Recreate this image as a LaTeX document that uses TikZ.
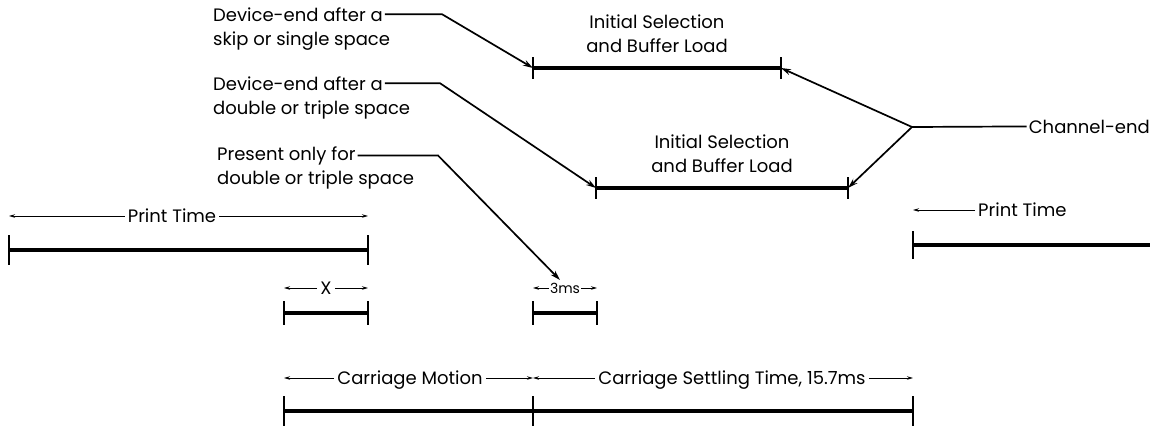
\documentclass[tikz,border=0pt]{standalone}
\usepackage{fontspec}
\setmainfont{Poppins}
\usetikzlibrary{arrows.meta, positioning}

\begin{document}
\begin{tikzpicture}[x=1pt, y=-1pt,
  txt/.style={font=\fontsize{18}{21}\selectfont, inner sep=2pt},
  dimlabel/.style={txt, text depth=0pt, inner sep=3pt},
  bar/.style={line width=4pt},
  tickmark/.style={line width=1.4pt},
  leader/.style={line width=1.7pt, -{Stealth[length=10pt, width=6pt]}},
  dim/.style={line width=0.9pt, -{Stealth[length=6pt, width=3.5pt]}}
]
\useasboundingbox (0,0) rectangle (1153,429);

% Bar end points
\coordinate (top1) at (533,68);   \coordinate (top2) at (781,68);
\coordinate (low1) at (596,188);  \coordinate (low2) at (848,188);
\coordinate (pt1) at (9,250);     \coordinate (pt2) at (368,250);
\coordinate (xs1) at (284,313);   \coordinate (xs2) at (368,313);
\coordinate (ms1) at (533,313);   \coordinate (ms2) at (597,313);
\coordinate (cm1) at (284,411);   \coordinate (cm2) at (533,411);
\coordinate (cs2) at (913,411);
\coordinate (rp1) at (913,245);   \coordinate (rp2) at (1150,245);

% Bars
\foreach \a/\b in {top1/top2, low1/low2, pt1/pt2, xs1/xs2, ms1/ms2, cm1/cs2, rp1/rp2}
  \draw[bar] (\a) -- (\b);

% End ticks
\foreach \c/\h in {top1/11, top2/11, low1/11, low2/11, pt1/15, pt2/15,
                   xs1/12, xs2/12, ms1/12, ms2/12, cm1/15, cm2/15, cs2/15, rp1/14}
  \draw[tickmark] ([yshift=\h pt]\c) -- ([yshift=-\h pt]\c);

% Labels over the selection bars
\node[txt, anchor=base] (sel1a) at (657,28) {Initial Selection};
\node[txt, anchor=base] (sel1b) at (657,52) {and Buffer Load};
\node[txt, anchor=base] (sel2a) at (722,148) {Initial Selection};
\node[txt, anchor=base] (sel2b) at (722,172) {and Buffer Load};

% Device-end notes
\node[txt, anchor=base west] (de1) at (211,21) {Device-end after a};
\node[txt, anchor=base west] (de1b) at (211,45) {skip or single space};
\node[txt, anchor=base west] (de2) at (211,90) {Device-end after a};
\node[txt, anchor=base west] (de2b) at (211,114) {double or triple space};
\node[txt, anchor=base west] (pre) at (215,160) {Present only for};
\node[txt, anchor=base west] (preb) at (215,184) {double or triple space};
\coordinate (k1) at (442,15);
\coordinate (k2) at (440,84);
\coordinate (k3) at (438,154);
\coordinate (pretip) at (560,280);

\draw[leader] (de1.east) -- (de1.east -| k1) -- (top1);
\draw[leader] (de2.east) -- (de2.east -| k2) -- (low1);
\draw[leader] (pre.east) -- (pre.east -| k3) -- (pretip);

% Channel-end
\node[txt, anchor=base east] (che) at (1152,133) {Channel-end};
\coordinate (chj) at (912,127);
\draw[line width=1.7pt] (che.west) -- (chj);
\draw[leader] (chj) -- (top2);
\draw[leader] (chj) -- (low2);

% Timing spans
\node[dimlabel] (ptl) at (172,216) {Print Time};
\draw[dim] (ptl.west) -- (ptl -| pt1);
\draw[dim] (ptl.east) -- (ptl -| pt2);

\node[dimlabel, anchor=west] (rpl) at (975,210) {Print Time};
\draw[dim] (rpl.west) -- (rpl -| rp1);

\node[dimlabel] (xl) at (326,288) {X};
\draw[dim] (xl.west) -- (xl -| xs1);
\draw[dim] (xl.east) -- (xl -| xs2);

\node[dimlabel, font=\fontsize{14}{16}\selectfont, inner sep=1pt] (msl) at (565,288) {3ms};
\draw[dim] (msl.west) -- (msl -| ms1);
\draw[dim] (msl.east) -- (msl -| ms2);

\node[dimlabel] (cml) at (410,378) {Carriage Motion};
\draw[dim] (cml.west) -- (cml -| cm1);
\draw[dim] (cml.east) -- (cml -| cm2);

\node[dimlabel] (csl) at (732,378) {Carriage Settling Time, 15.7ms};
\draw[dim] (csl.west) -- (csl -| cm2);
\draw[dim] (csl.east) -- (csl -| cs2);
\end{tikzpicture}
\end{document}
